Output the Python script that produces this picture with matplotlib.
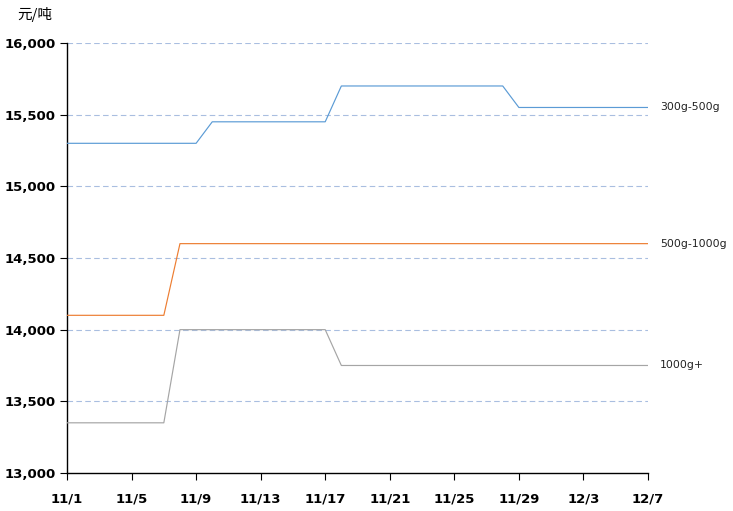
import numpy as np
import matplotlib.pyplot as plt

plt.rcParams['font.family'] = ['DejaVu Sans', 'Noto Sans CJK SC']

# dias desde 11/1 hasta 12/7
days = np.arange(37)
tick_pos = np.arange(0, 37, 4)
tick_labels = ['11/1', '11/5', '11/9', '11/13', '11/17', '11/21', '11/25', '11/29', '12/3', '12/7']

# precios diarios (元/吨)
s_300_500 = [15300]*9 + [15450]*8 + [15700]*11 + [15550]*9
s_500_1000 = [14100]*7 + [14600]*30
s_1000 = [13350]*7 + [14000]*10 + [13750]*20

names = ['300g-500g', '500g-1000g', '1000g+']
colors = ['#5B9BD5', '#ED7D31', '#A5A5A5']

fig = plt.figure(figsize=(7.33, 5.11), dpi=100)
ax = fig.add_axes([0.0914, 0.0744, 0.7926, 0.8415])

for vals, name, c in zip([s_300_500, s_500_1000, s_1000], names, colors):
    ax.plot(days, vals, color=c, lw=0.85, zorder=3)
    ax.annotate(name, xy=(days[-1], vals[-1]), xytext=(8.5, 0), textcoords='offset points',
                va='center', ha='left', fontsize=7.8, color='#222222')

ax.set_xlim(0, 36)
ax.set_ylim(13000, 16000)
ax.set_yticks(np.arange(13000, 16001, 500))
ax.set_yticklabels([f'{v:,}' for v in range(13000, 16001, 500)], fontsize=9.5, fontweight='bold')
ax.set_xticks(tick_pos)
ax.set_xticklabels(tick_labels, fontsize=9.5, fontweight='bold')
ax.tick_params(axis='x', direction='out', length=5, pad=9)
ax.tick_params(axis='y', direction='out', length=5, pad=3)

for v in range(13500, 16001, 500):
    ax.axhline(v, color='#A9BEE0', lw=0.8, ls=(0, (5, 3)), zorder=1)

for s in ['top', 'right']:
    ax.spines[s].set_visible(False)
for s in ['left', 'bottom']:
    ax.spines[s].set_linewidth(1.0)

fig.text(0.023, 0.972, '元/吨', fontsize=10.5, family=['Noto Sans CJK SC'], va='center')

plt.savefig('out.png', dpi=100)
